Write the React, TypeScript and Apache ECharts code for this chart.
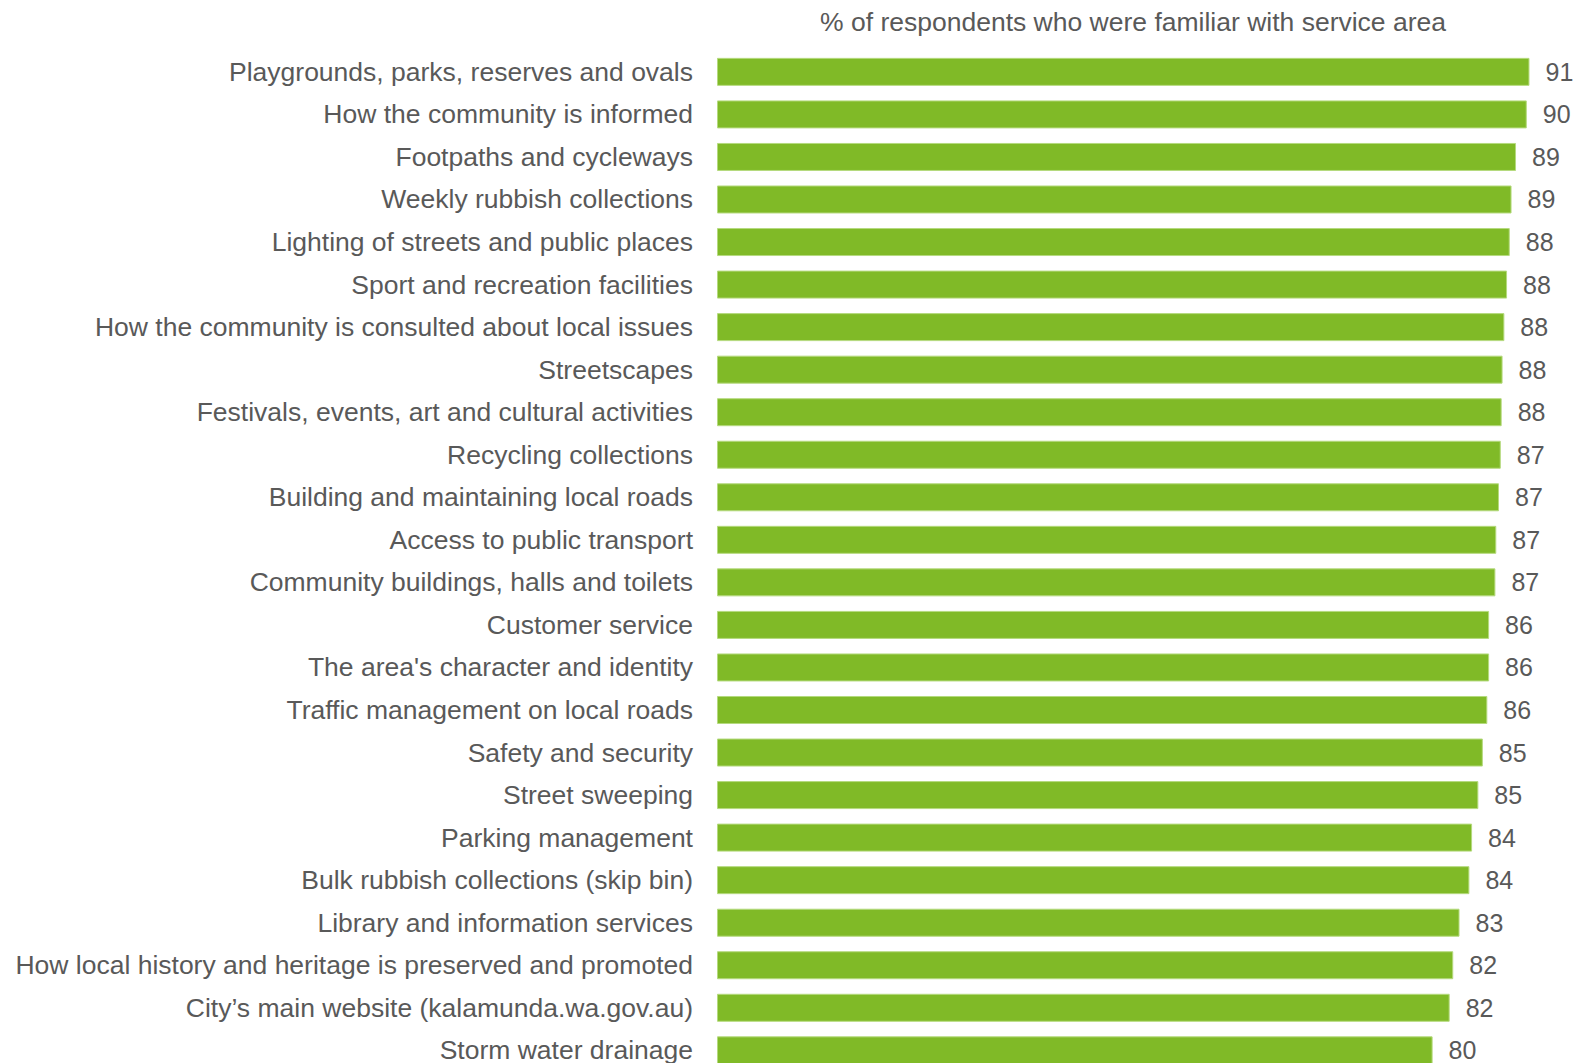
import React, { useEffect, useRef } from "react";
import * as echarts from "echarts";

const categories = [
  "Playgrounds, parks, reserves and ovals",
  "How the community is informed",
  "Footpaths and cycleways",
  "Weekly rubbish collections",
  "Lighting of streets and public places",
  "Sport and recreation facilities",
  "How the community is consulted about local issues",
  "Streetscapes",
  "Festivals, events, art and cultural activities",
  "Recycling collections",
  "Building and maintaining local roads",
  "Access to public transport",
  "Community buildings, halls and toilets",
  "Customer service",
  "The area's character and identity",
  "Traffic management on local roads",
  "Safety and security",
  "Street sweeping",
  "Parking management",
  "Bulk rubbish collections (skip bin)",
  "Library and information services",
  "How local history and heritage is preserved and promoted",
  "City\u2019s main website (kalamunda.wa.gov.au)",
  "Storm water drainage",
];

const values = [
  90.6, 90.3, 89.1, 88.6, 88.4, 88.1, 87.8, 87.6, 87.5, 87.4, 87.2, 86.9, 86.8,
  86.1, 86.1, 85.9, 85.4, 84.9, 84.2, 83.9, 82.8, 82.1, 81.7, 79.8,
];

const titleText = "% of respondents who were familiar with service area";

const TEXT = "#595959";
const BAR = "#80BA27";
const FONT = "'Liberation Sans', Arial, sans-serif";

export default function App() {
  const ref = useRef<HTMLDivElement>(null);
  useEffect(() => {
    const chart = echarts.init(ref.current!, null, { renderer: "svg" });
    chart.setOption({
      animation: false,
      backgroundColor: "#ffffff",
      graphic: [
        {
          type: "text",
          x: 1133,
          y: 22,
          style: {
            text: titleText,
            fill: TEXT,
            font: "26.5px 'Liberation Sans', Arial, sans-serif",
            textAlign: "center",
            textVerticalAlign: "middle",
          },
        },
      ],
      grid: { left: 717, top: 50.6, height: 1021, width: 860, containLabel: false },
      xAxis: {
        type: "value",
        min: 0,
        max: 95.9,
        show: false,
      },
      yAxis: {
        type: "category",
        data: categories,
        inverse: true,
        axisLine: { show: false },
        axisTick: { show: false },
        axisLabel: {
          margin: 24,
          color: TEXT,
          fontSize: 26.5,
          fontFamily: FONT,
        },
      },
      series: [
        {
          type: "bar",
          data: values,
          barWidth: 28,
          itemStyle: { color: BAR, borderColor: "#B5DA7E", borderWidth: 1 },
          label: {
            show: true,
            position: "right",
            distance: 16,
            color: TEXT,
            fontSize: 25,
            fontFamily: FONT,
            formatter: (p: any) => String(Math.round(p.value)),
          },
        },
      ],
    });
    return () => chart.dispose();
  }, []);
  return (
    <div
      style={{
        position: "absolute",
        left: 0,
        top: 0,
        width: 1577,
        height: 1063,
        overflow: "hidden",
        background: "#ffffff",
      }}
    >
      <div ref={ref} style={{ width: 1577, height: 1090 }} />
    </div>
  );
}
